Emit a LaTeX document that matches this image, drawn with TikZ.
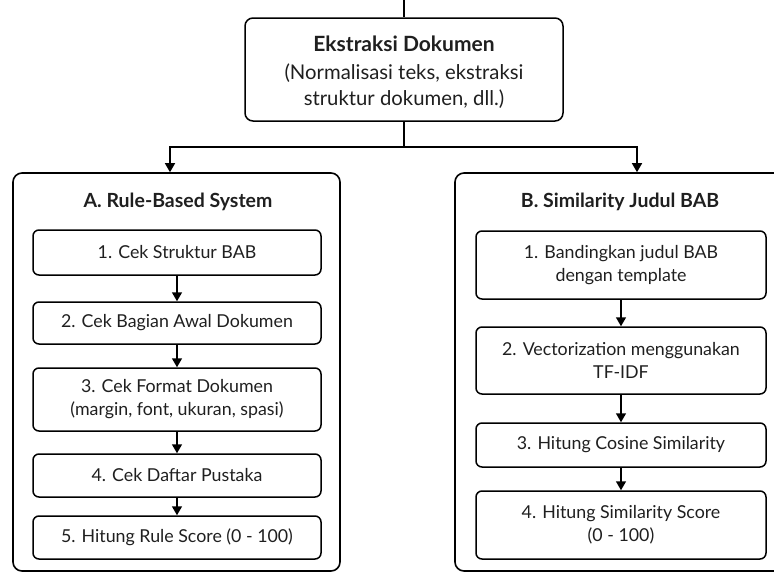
\documentclass[tikz,border=0pt]{standalone}
\usepackage{fontspec}
\setmainfont{Lato}
\usetikzlibrary{arrows.meta}

\tikzset{
  box/.style={draw, line width=1.5pt, rounded corners=6pt, align=center,
    inner sep=0pt, text=black!88, font=\fontsize{17.8}{23}\selectfont},
  group/.style={draw, line width=1.6pt, rounded corners=9pt, inner sep=0pt},
  head/.style={text=black!88, font=\bfseries\fontsize{19.5}{22}\selectfont},
  link/.style={line width=1.5pt},
  arr/.style={line width=1.5pt, -{Triangle[length=9pt,width=10pt]}}
}

\begin{document}
\begin{tikzpicture}[x=1pt, y=-1pt]
    \useasboundingbox (0,0) rectangle (774,574);

    % extraction step on top
    \coordinate (src) at (404,0);
    \node[box, rounded corners=8pt, minimum width=318pt, minimum height=103pt] (extract) at (404,69.5) {};
    \node[text=black!88, font=\bfseries\fontsize{21}{24}\selectfont] (extractT) at (404,44) {Ekstraksi Dokumen};
    \node[align=center, text=black!88, font=\fontsize{20.3}{26}\selectfont] (extractS) at (404,86) {(Normalisasi teks, ekstraksi\\struktur dokumen, dll.)};
    \draw[link] (src) -- (extract);

    % the two branches
    \node[group, minimum width=327pt, minimum height=398pt] (ruleA) at (176.5,372) {};
    \node[group, minimum width=364pt, minimum height=398pt] (simB) at (637,372) {};
    \coordinate (split) at (404,147);
    \draw[link] (extract) -- (split);
    \draw[arr] (split) -| ([xshift=-6.5pt]ruleA.north);
    \draw[arr] (split) -| (simB.north);

    \node[head] (headA) at (178,202) {A. Rule-Based System};
    \node[head] (headB) at (620,202) {B. Similarity Judul BAB};

    % A: rule checks
    \node[box, minimum width=288pt, minimum height=45pt] (a1) at (177,252.5) {1. Cek Struktur BAB};
    \node[box, minimum width=288pt, minimum height=42pt] (a2) at (177,323) {2. Cek Bagian Awal Dokumen};
    \node[box, minimum width=288pt, minimum height=63pt] (a3) at (177,399.5) {3. Cek Format Dokumen\\(margin, font, ukuran, spasi)};
    \node[box, minimum width=288pt, minimum height=43pt] (a4) at (177,475.5) {4. Cek Daftar Pustaka};
    \node[box, minimum width=288pt, minimum height=43pt] (a5) at (177,537.5) {5. Hitung Rule Score (0 - 100)};
    \foreach \i/\j in {a1/a2, a2/a3, a3/a4, a4/a5}
        \draw[arr] (\i) -- (\j);

    % B: title similarity
    \node[box, minimum width=290pt, minimum height=68pt] (b1) at (621,265) {1. Bandingkan judul BAB\\dengan template};
    \node[box, minimum width=290pt, minimum height=67pt] (b2) at (621,360.5) {2. Vectorization menggunakan\\TF-IDF};
    \node[box, minimum width=290pt, minimum height=44pt] (b3) at (621,445) {3. Hitung Cosine Similarity};
    \node[box, minimum width=290pt, minimum height=68pt] (b4) at (621,525) {4. Hitung Similarity Score\\(0 - 100)};
    \foreach \i/\j in {b1/b2, b2/b3, b3/b4}
        \draw[arr] (\i) -- (\j);
\end{tikzpicture}
\end{document}
